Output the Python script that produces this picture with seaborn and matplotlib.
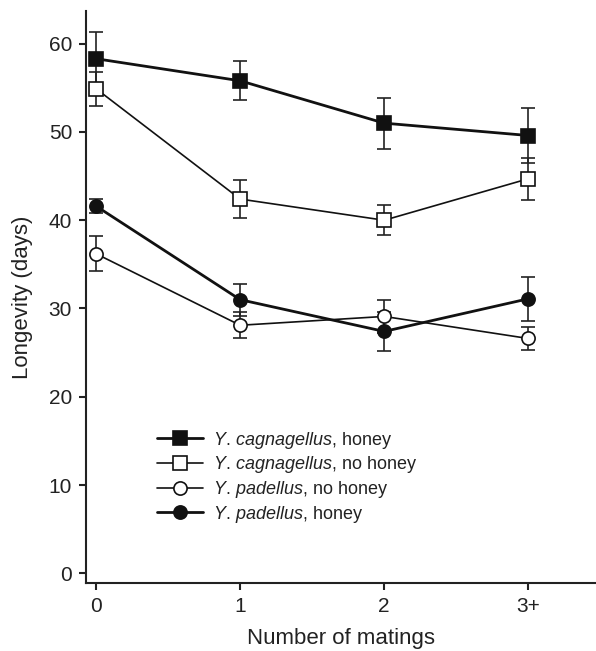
import numpy as np
import pandas as pd
import matplotlib
matplotlib.use('Agg')
import matplotlib.pyplot as plt
import seaborn as sns

# Data
matings = ['0', '1', '2', '3+']
cag_honey = [58.3, 55.8, 51.0, 49.6]
cag_honey_err = [3.0, 2.2, 2.9, 3.1]
cag_nohoney = [54.9, 42.4, 40.0, 44.7]
cag_nohoney_err = [1.9, 2.2, 1.7, 2.4]
pad_nohoney = [36.2, 28.1, 29.1, 26.6]
pad_nohoney_err = [2.0, 1.5, 1.9, 1.3]
pad_honey = [41.6, 31.0, 27.4, 31.1]
pad_honey_err = [0.8, 1.8, 2.2, 2.5]

series = [
    ('Y. cagnagellus', 'honey', cag_honey, cag_honey_err, 's', '#111111', 2.0),
    ('Y. cagnagellus', 'no honey', cag_nohoney, cag_nohoney_err, 's', 'white', 1.2),
    ('Y. padellus', 'no honey', pad_nohoney, pad_nohoney_err, 'o', 'white', 1.2),
    ('Y. padellus', 'honey', pad_honey, pad_honey_err, 'o', '#111111', 2.0),
]

sns.set_style('ticks')
plt.rcParams['font.family'] = ['Liberation Sans', 'DejaVu Sans']
plt.rcParams['mathtext.fontset'] = 'custom'
plt.rcParams['mathtext.rm'] = 'Liberation Sans'
plt.rcParams['mathtext.it'] = 'Liberation Sans:italic'

fig = plt.figure(figsize=(5.96, 6.51), dpi=100)
ax = fig.add_axes([0.1443, 0.1045, 0.8557, 0.8785])

xpos = np.arange(len(matings))
for sp, trt, vals, errs, mk, fc, lw in series:
    df = pd.DataFrame({'x': xpos, 'y': vals})
    ax.errorbar(df['x'], df['y'], yerr=errs, fmt='none', ecolor='#222222',
                elinewidth=1.2, capsize=4.8, capthick=1.2, zorder=2)
    genus, name = sp.split(' ')
    label = r'$\it{' + genus + r'\,' + name + '}$, ' + trt
    sns.lineplot(data=df, x='x', y='y', ax=ax, color='#111111', linewidth=lw,
                 marker=mk, markersize=9.5, markerfacecolor=fc,
                 markeredgecolor='#111111', markeredgewidth=1.2,
                 label=label, zorder=3)

ax.set_xlim(-0.07, 3.47)
ax.set_ylim(-1.1, 63.7)
ax.set_xticks(xpos)
ax.set_xticklabels(matings)
ax.set_yticks(range(0, 61, 10))
ax.tick_params(axis='both', labelsize=15, length=5, width=1.5, color='#222222',
               labelcolor='#222222', pad=5)
for s in ['left', 'bottom']:
    ax.spines[s].set_linewidth(1.5)
    ax.spines[s].set_color('#222222')
sns.despine(ax=ax)

ax.set_xlabel('Number of matings', fontsize=16, color='#222222', labelpad=9)
ax.set_ylabel('Longevity (days)', fontsize=16, color='#222222', labelpad=11)

ax.legend(loc='upper left', bbox_to_anchor=(0.139, 0.268), frameon=False,
          fontsize=13, handlelength=2.55, handletextpad=0.55, labelspacing=0.2,
          borderpad=0, borderaxespad=0, labelcolor='#222222')

fig.savefig('out.png', dpi=100)
